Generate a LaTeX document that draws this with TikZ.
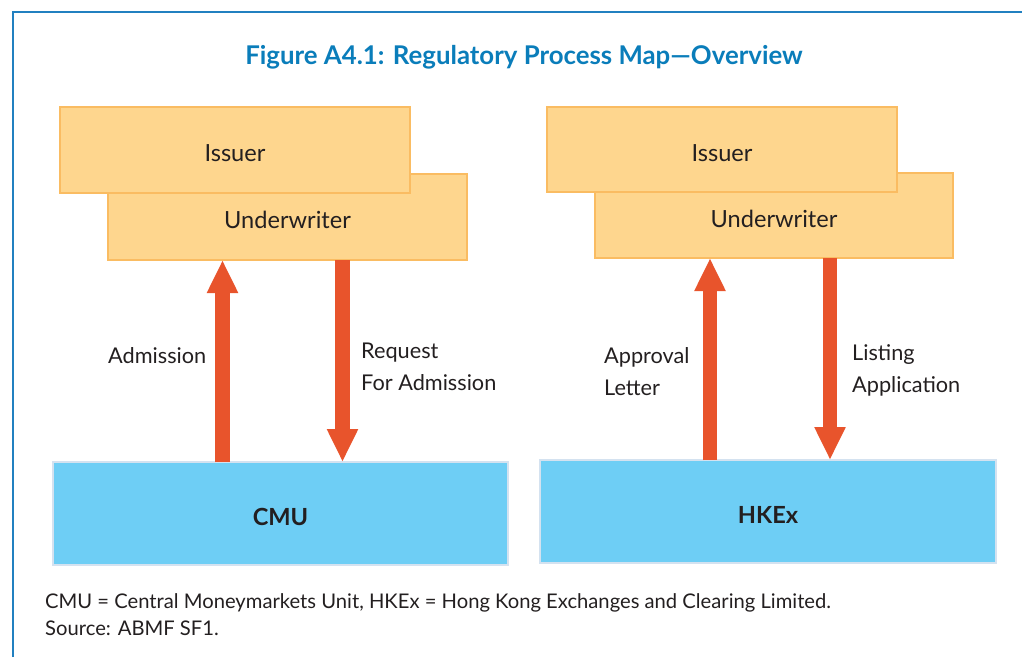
\documentclass[tikz,border=0pt]{standalone}
\usepackage{fontspec}
\setmainfont{Lato}
\usetikzlibrary{arrows.meta}
\definecolor{frameblue}{RGB}{33,128,192}
\definecolor{titleblue}{RGB}{10,125,186}
\definecolor{ofill}{RGB}{254,214,142}
\definecolor{oline}{RGB}{250,188,98}
\definecolor{bfill}{RGB}{110,206,245}
\definecolor{bline}{RGB}{212,226,240}
\definecolor{arrred}{RGB}{232,84,44}
\definecolor{txt}{RGB}{35,31,32}
\tikzset{
  obox/.style={draw=oline, fill=ofill, line width=1.6pt, rectangle, outer sep=0pt, inner sep=0pt, text=txt, text height=23pt, text depth=0pt, font=\fontsize{23.6}{27}\selectfont},
  bbox/.style={draw=bline, fill=bfill, line width=1.6pt, rectangle, outer sep=0pt, inner sep=0pt, text=txt, text height=23pt, text depth=0pt, font=\bfseries\fontsize{23.6}{27}\selectfont},
  flow/.style={draw=arrred, line width=14.5pt, -{Triangle[width=29pt,length=33pt]}, arrred},
  lbl/.style={anchor=base west, inner sep=0pt, text=txt, align=left, font=\fontsize{21.7}{31.5}\selectfont},
}
\begin{document}
\begin{tikzpicture}[x=1pt,y=-1pt]
\useasboundingbox (0,0) rectangle (1022,657);
% frame
\draw[frameblue, line width=1.6pt] (13,657) -- (13,12) -- (1022,12);
% title
\node[anchor=base, inner sep=0pt, text=titleblue, font=\bfseries\fontsize{25.8}{30}\selectfont] (title) at (524,64) {Figure A4.1: Regulatory Process Map—Overview};
% left group
\node[obox, minimum width=359pt, minimum height=86pt] (uw1) at (287.5,217) {Underwriter};
\node[obox, minimum width=350pt, minimum height=86pt] (is1) at (235,150) {Issuer};
\node[bbox, minimum width=455pt, minimum height=103pt] (cmu) at (280.5,513.5) {CMU};
% right group
\node[obox, minimum width=358pt, minimum height=85pt] (uw2) at (774,215.5) {Underwriter};
\node[obox, minimum width=350pt, minimum height=85pt] (is2) at (722,149.5) {Issuer};
\node[bbox, minimum width=456pt, minimum height=103pt] (hkex) at (768,511.5) {HKEx};
% arrow columns
\coordinate (c1) at (222.5,0);
\coordinate (c2) at (342.5,0);
\coordinate (c3) at (710,0);
\coordinate (c4) at (830,0);
\draw[flow] (c1 |- cmu.north) -- (c1 |- uw1.south);
\draw[flow] (c2 |- uw1.south) -- (c2 |- cmu.north);
\draw[flow] (c3 |- hkex.north) -- (c3 |- uw2.south);
\draw[flow] (c4 |- uw2.south) -- (c4 |- hkex.north);
% labels (anchor = baseline of last line)
\node[lbl] (l1) at (108,363) {Admission};
\node[lbl] (l2) at (361,390) {Request\\For Admission};
\node[lbl] (l3) at (604,395) {Approval\\Letter};
\node[lbl] (l4) at (852,392) {Listing\\Application};
% footer
\node[lbl, font=\fontsize{20.2}{27.5}\selectfont] (foot) at (45,635.5) {CMU = Central Moneymarkets Unit, HKEx = Hong Kong Exchanges and Clearing Limited.\\Source: ABMF SF1.};
\end{tikzpicture}
\end{document}
